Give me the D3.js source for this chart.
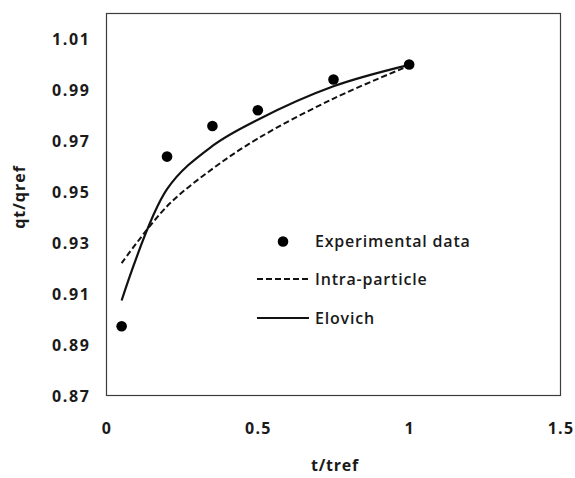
<!DOCTYPE html>
<html>
<head>
<meta charset="utf-8">
<script src="https://cdn.jsdelivr.net/npm/d3@7"></script>
<style>
  html, body { margin: 0; padding: 0; background: #fff; }
  svg { display: block; }
  text { font-family: "Open Sans", "DejaVu Sans", sans-serif; fill: #1a1a1a; }
</style>
</head>
<body>
<svg id="chart" width="575" height="478"></svg>
<script>
// ---- data ----
const timeRatio = [0.05, 0.2, 0.35, 0.5, 0.75, 1.0];
const experimental = [0.8972, 0.9638, 0.9758, 0.9820, 0.9941, 1.0];
const intraParticle = [0.9220, 0.9443, 0.9590, 0.9709, 0.9866, 0.9995];
const elovich = [0.9073, 0.9510, 0.9680, 0.9783, 0.9914, 0.9998];
const xTicks = [0, 0.5, 1, 1.5];
const yTicks = [0.87, 0.89, 0.91, 0.93, 0.95, 0.97, 0.99, 1.01];
const legendLabels = ["Experimental data", "Intra-particle", "Elovich"];
const xTitle = "t/tref";
const yTitle = "qt/qref";

// ---- layout ----
const svg = d3.select("#chart");
const plot = { left: 106.5, top: 13.5, right: 560.5, bottom: 395.5 };

const x = d3.scaleLinear().domain([0, 1.5]).range([plot.left, plot.right]);
const y = d3.scaleLinear().domain([0.87, 1.02]).range([plot.bottom, plot.top]);

// plot border
svg.append("rect")
  .attr("x", plot.left).attr("y", plot.top)
  .attr("width", plot.right - plot.left).attr("height", plot.bottom - plot.top)
  .attr("fill", "none").attr("stroke", "#3c3c3c").attr("stroke-width", 1.2);

// axes (labels only, no tick marks)
const yAxis = d3.axisLeft(y).tickValues(yTicks).tickSize(0).tickPadding(16)
  .tickFormat(d3.format(".2f"));
const gy = svg.append("g").attr("transform", `translate(${plot.left},0)`).call(yAxis);
gy.select(".domain").remove();
gy.selectAll("text").style("font-size", "16px").style("font-weight", "bold")
  .style("letter-spacing", "1.6px")
  .attr("fill", "#1a1a1a").attr("dy", "0.35em");

const xAxis = d3.axisBottom(x).tickValues(xTicks).tickSize(0).tickPadding(27)
  .tickFormat(d => String(d));
const gx = svg.append("g").attr("transform", `translate(0,${plot.bottom})`).call(xAxis);
gx.select(".domain").remove();
gx.selectAll("text").style("font-size", "16px").style("font-weight", "bold")
  .style("letter-spacing", "1.2px")
  .attr("fill", "#1a1a1a");

// axis titles
svg.append("text")
  .attr("x", 335).attr("y", 471)
  .attr("text-anchor", "middle")
  .style("font-size", "16px").style("font-weight", "bold")
  .style("letter-spacing", "0.8px")
  .text(xTitle);
svg.append("text")
  .attr("transform", `translate(25,197) rotate(-90)`)
  .attr("text-anchor", "middle")
  .style("font-size", "16px").style("font-weight", "bold")
  .style("letter-spacing", "1px")
  .text(yTitle);

// lines
const line = d3.line()
  .x((d, i) => x(timeRatio[i]))
  .y(d => y(d))
  .curve(d3.curveCatmullRom.alpha(0.5));

svg.append("path").datum(intraParticle)
  .attr("d", line).attr("fill", "none")
  .attr("stroke", "#111").attr("stroke-width", 2)
  .attr("stroke-dasharray", "6,3");

svg.append("path").datum(elovich)
  .attr("d", line).attr("fill", "none")
  .attr("stroke", "#111").attr("stroke-width", 2.2);

// points
svg.append("g").selectAll("circle").data(experimental).join("circle")
  .attr("cx", (d, i) => x(timeRatio[i]))
  .attr("cy", d => y(d))
  .attr("r", 5.3)
  .attr("fill", "#000");

// legend
const lg = svg.append("g");
lg.append("circle").attr("cx", 283).attr("cy", 241.5).attr("r", 5.3).attr("fill", "#000");
lg.append("line").attr("x1", 257).attr("x2", 309).attr("y1", 279).attr("y2", 279)
  .attr("stroke", "#111").attr("stroke-width", 2).attr("stroke-dasharray", "6,3");
lg.append("line").attr("x1", 257).attr("x2", 309).attr("y1", 318).attr("y2", 318)
  .attr("stroke", "#111").attr("stroke-width", 2.2);
const ly = [241.5, 279, 318];
legendLabels.forEach((t, i) => {
  lg.append("text").attr("x", 315).attr("y", ly[i]).attr("dy", "0.35em")
    .style("font-size", "16px").style("font-weight", "600")
    .style("letter-spacing", "0.8px")
    .text(t);
});
</script>
</body>
</html>
